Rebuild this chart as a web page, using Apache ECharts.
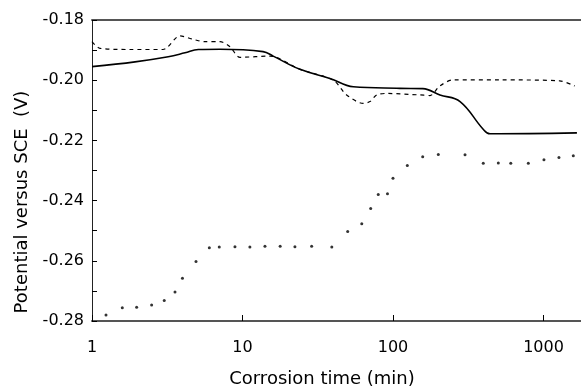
<!DOCTYPE html>
<html>
<head>
<meta charset="utf-8">
<script src="https://cdn.jsdelivr.net/npm/echarts@6/dist/echarts.min.js"></script>
<style>
html,body{margin:0;padding:0;background:#fff;}
#chart{width:581px;height:387px;}
</style>
</head>
<body>
<div id="chart"></div>
<script>
// Solid curve: [time (min), potential (V)]
const solidTime = [1, 1.93, 3.21, 4.15, 5.09, 7.09, 13.7, 16.0, 24.1, 38.1, 54.5, 111, 158, 205, 279, 396, 441, 1668];
const solidPot  = [-0.1955, -0.1939, -0.1922, -0.1909, -0.1898, -0.1897, -0.1905, -0.1920, -0.1964, -0.1994, -0.2022, -0.2027, -0.2028, -0.2049, -0.2071, -0.2162, -0.2178, -0.2175];

// Dashed curve
const dashTime = [1, 1.13, 1.79, 2.96, 3.84, 4.83, 5.63, 7.09, 8.26, 9.63, 15.2, 24.1, 40.1, 49.2, 63.5, 70.3, 77.9, 90.8, 151, 176, 205, 251, 514, 1280, 1610];
const dashPot  = [-0.1872, -0.1894, -0.1898, -0.1898, -0.1853, -0.1866, -0.1872, -0.1872, -0.1889, -0.1924, -0.1920, -0.1964, -0.2000, -0.2049, -0.2077, -0.2071, -0.2049, -0.2044, -0.2049, -0.2051, -0.2019, -0.1999, -0.1999, -0.2002, -0.2019];

// Dotted curve (individual points)
const dotTime = [1.239, 1.59, 1.98, 2.49, 3.02, 3.56, 3.99, 4.91, 6.02, 7.01, 8.91, 11.2, 14.1, 17.8, 22.3, 28.8, 39.2, 50.0, 62.0, 71.1, 79.8, 91.9, 100, 124.5, 157.5, 200, 301, 398, 501, 606, 793, 1007, 1267, 1578];
const dotPot  = [-0.2780, -0.2756, -0.2754, -0.2747, -0.2732, -0.2704, -0.2658, -0.2602, -0.2557, -0.2554, -0.2553, -0.2554, -0.2552, -0.2552, -0.2553, -0.2552, -0.2554, -0.2503, -0.2477, -0.2426, -0.2380, -0.2377, -0.2326, -0.2283, -0.2254, -0.2247, -0.2248, -0.2276, -0.2275, -0.2276, -0.2276, -0.2264, -0.2257, -0.2251];

const xName = 'Corrosion time (min)';
const yName = 'Potential versus SCE  (V)';
const xMin = 1, xMax = 1775;
const yMin = -0.28, yMax = -0.18, yStep = 0.02;

const zip = (a, b) => a.map((v, i) => [v, b[i]]);
const FONT = 'DejaVu Sans';

const chart = echarts.init(document.getElementById('chart'), null, {renderer: 'canvas'});
chart.setOption({
  animation: false,
  backgroundColor: '#fff',
  grid: {left: 92, right: 0, top: 20, bottom: 66, containLabel: false, outerBoundsMode: 'none'},
  xAxis: [{
    type: 'log', logBase: 10, min: xMin, max: xMax,
    name: xName, nameLocation: 'middle', nameGap: 49,
    nameTextStyle: {fontFamily: FONT, fontSize: 18, color: '#000', padding: [0, 29, 0, 0]},
    axisLine: {show: true, lineStyle: {color: '#555', width: 2}},
    axisTick: {show: true, inside: true, length: 6, lineStyle: {color: '#000', width: 1}},
    axisLabel: {fontFamily: FONT, fontSize: 16, color: '#000', margin: 19, showMaxLabel: false,
      formatter: v => String(Math.round(v))},
    splitLine: {show: false}, minorTick: {show: false}
  }, {
    type: 'value', position: 'top', min: 0, max: 1,
    axisLine: {show: true, lineStyle: {color: '#555', width: 2}},
    axisTick: {show: false}, axisLabel: {show: false}, splitLine: {show: false}
  }],
  yAxis: {
    type: 'value', min: yMin, max: yMax, interval: yStep,
    name: yName, nameLocation: 'middle', nameGap: 60,
    nameTextStyle: {fontFamily: FONT, fontSize: 18, color: '#000', padding: [0, 63, 0, 0]},
    axisLine: {show: true, lineStyle: {color: '#222', width: 1}},
    axisTick: {show: true, inside: true, length: 5, lineStyle: {color: '#000'}},
    minorTick: {show: true, splitNumber: 2, length: 5, lineStyle: {color: '#000'}},
    axisLabel: {fontFamily: FONT, fontSize: 16, color: '#000', margin: 8,
      formatter: v => v.toFixed(2)},
    splitLine: {show: false}
  },
  series: [{
    type: 'line', data: zip(solidTime, solidPot), smooth: 0.4, showSymbol: false,
    lineStyle: {color: '#000', width: 1.6}
  }, {
    type: 'line', data: zip(dashTime, dashPot), smooth: 0.3, showSymbol: false,
    lineStyle: {color: '#000', width: 1.2, type: [4, 4]}
  }, {
    type: 'scatter', data: zip(dotTime, dotPot), symbol: 'circle', symbolSize: 3,
    itemStyle: {color: '#000'}
  }]
});
</script>
</body>
</html>
